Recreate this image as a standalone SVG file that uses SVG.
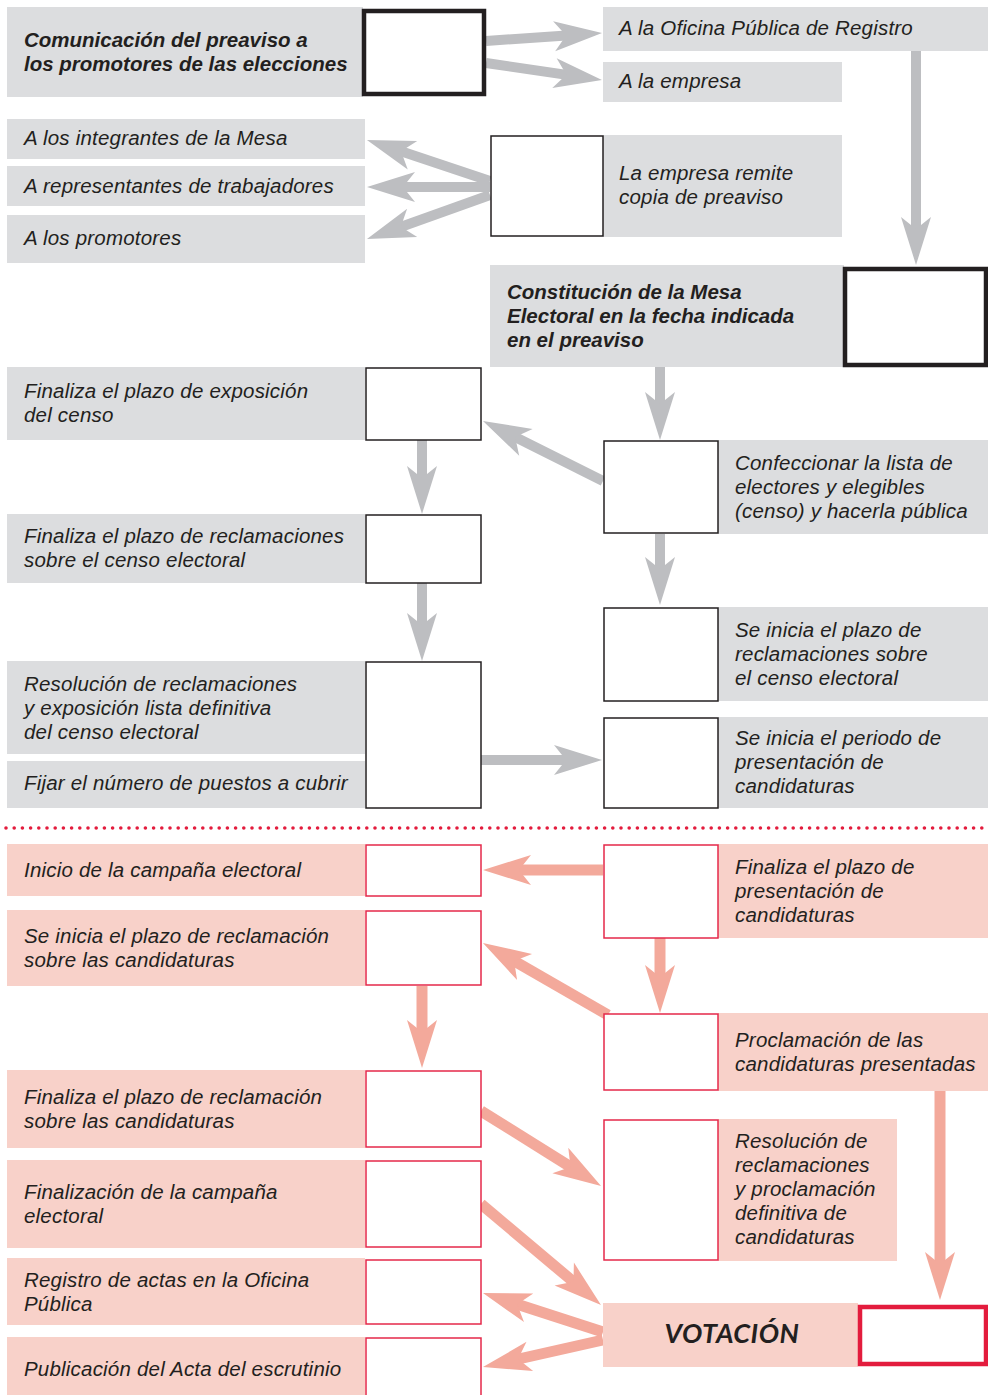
<svg xmlns="http://www.w3.org/2000/svg" width="988" height="1395" viewBox="0 0 988 1395">
<defs>
<style>
.g{fill:#dcdddf}
.p{fill:#f8d1c9}
.bx{fill:#fff;stroke:#231f20;stroke-width:1.5}
.bxr{fill:#fff;stroke:#e5284a;stroke-width:1.5}
.bk{fill:#fff;stroke:#231f20;stroke-width:4.5}
.rk{fill:#fff;stroke:#e31c3d;stroke-width:4.5}
text{font-family:"Liberation Sans",Arial,sans-serif;font-style:italic;font-size:20.5px;letter-spacing:0.2px;fill:#231f20}
.b{font-weight:bold;letter-spacing:0}
.v{font-family:Lato,"Liberation Sans",sans-serif;font-weight:bold;font-size:27px;letter-spacing:0.5px}
.ga{stroke:#bdbec1;stroke-width:10;fill:none;marker-end:url(#mg)}
.pa{stroke:#f3a99b;stroke-width:11;fill:none;marker-end:url(#mp)}
</style>
<marker id="mg" markerUnits="userSpaceOnUse" refX="0" refY="0" markerWidth="60" markerHeight="40" orient="auto" overflow="visible"><path d="M32,0 L-16,-15 L-4,0 L-16,15 Z" fill="#bdbec1"/></marker>
<marker id="mp" markerUnits="userSpaceOnUse" refX="0" refY="0" markerWidth="60" markerHeight="40" orient="auto" overflow="visible"><path d="M32,0 L-16,-15 L-4,0 L-16,15 Z" fill="#f3a99b"/></marker>
</defs>
<rect width="988" height="1395" fill="#fff"/>

<g id="connectors">
<line class="ga" x1="486" y1="41" x2="570.1" y2="35.2"/>
<line class="ga" x1="486" y1="63" x2="570.3" y2="75.4"/>
<line class="ga" x1="490" y1="181" x2="397.3" y2="150.1"/>
<line class="ga" x1="490" y1="187" x2="399" y2="187"/>
<line class="ga" x1="490" y1="195" x2="397.1" y2="228.2"/>
<line class="ga" x1="916" y1="51" x2="916" y2="233"/>
<line class="ga" x1="660" y1="367" x2="660" y2="408"/>
<line class="ga" x1="603" y1="481" x2="511.6" y2="435.3"/>
<line class="ga" x1="422" y1="440" x2="422" y2="482"/>
<line class="ga" x1="422" y1="583" x2="422" y2="629"/>
<line class="ga" x1="660" y1="534" x2="660" y2="573"/>
<line class="ga" x1="481" y1="760" x2="570" y2="760"/>
<line class="pa" x1="603" y1="870" x2="515" y2="870"/>
<line class="pa" x1="660" y1="938" x2="660" y2="981"/>
<line class="pa" x1="608" y1="1015" x2="510.7" y2="959"/>
<line class="pa" x1="422" y1="986" x2="422" y2="1036"/>
<line class="pa" x1="481" y1="1111" x2="573.9" y2="1169"/>
<line class="pa" x1="481" y1="1204" x2="576.5" y2="1284.4"/>
<line class="pa" x1="940" y1="1091" x2="940" y2="1268"/>
<line class="pa" x1="603" y1="1332" x2="513.4" y2="1302.9"/>
<line class="pa" x1="603" y1="1340" x2="514.2" y2="1360"/>
</g>

<g id="n-comunicacion">
<rect class="g" x="7" y="7" width="356" height="90"/>
<rect class="bk" x="364" y="11" width="120" height="83"/>
<text class="b" x="24" y="47">Comunicación del preaviso a<tspan x="24" dy="24">los promotores de las elecciones</tspan></text>
</g>
<g id="n-oficina">
<rect class="g" x="603" y="7" width="385" height="44"/>
<text x="619" y="35">A la Oficina Pública de Registro</text>
</g>
<g id="n-empresa">
<rect class="g" x="603" y="62" width="239" height="40"/>
<text x="619" y="88">A la empresa</text>
</g>
<g id="n-integrantes">
<rect class="g" x="7" y="119" width="358" height="40"/>
<text x="24" y="145">A los integrantes de la Mesa</text>
</g>
<g id="n-representantes">
<rect class="g" x="7" y="166" width="358" height="40"/>
<text x="24" y="193">A representantes de trabajadores</text>
</g>
<g id="n-promotores">
<rect class="g" x="7" y="215" width="358" height="48"/>
<text x="24" y="245">A los promotores</text>
</g>
<g id="n-remite">
<rect class="g" x="603" y="135" width="239" height="102"/>
<rect class="bx" x="491" y="136" width="112" height="100"/>
<text x="619" y="180">La empresa remite<tspan x="619" dy="24">copia de preaviso</tspan></text>
</g>
<g id="n-constitucion">
<rect class="g" x="490" y="265" width="354" height="102"/>
<rect class="bk" x="845" y="269" width="141" height="96"/>
<text class="b" x="507" y="299">Constitución de la Mesa<tspan x="507" dy="24">Electoral en la fecha indicada</tspan><tspan x="507" dy="24">en el preaviso</tspan></text>
</g>
<g id="n-exposicion">
<rect class="g" x="7" y="367" width="358" height="73"/>
<rect class="bx" x="366" y="368" width="115" height="72"/>
<text x="24" y="398">Finaliza el plazo de exposición<tspan x="24" dy="24">del censo</tspan></text>
</g>
<g id="n-confeccionar">
<rect class="g" x="718" y="440" width="270" height="94"/>
<rect class="bx" x="604" y="441" width="114" height="92"/>
<text x="735" y="470">Confeccionar la lista de<tspan x="735" dy="24">electores y elegibles</tspan><tspan x="735" dy="24">(censo) y hacerla pública</tspan></text>
</g>
<g id="n-fin-reclamaciones">
<rect class="g" x="7" y="514" width="358" height="69"/>
<rect class="bx" x="366" y="515" width="115" height="68"/>
<text x="24" y="543">Finaliza el plazo de reclamaciones<tspan x="24" dy="24">sobre el censo electoral</tspan></text>
</g>
<g id="n-inicio-reclamaciones">
<rect class="g" x="718" y="607" width="270" height="94"/>
<rect class="bx" x="604" y="608" width="114" height="93"/>
<text x="735" y="637">Se inicia el plazo de<tspan x="735" dy="24">reclamaciones sobre</tspan><tspan x="735" dy="24">el censo electoral</tspan></text>
</g>
<g id="n-resolucion">
<rect class="g" x="7" y="661" width="358" height="93"/>
<rect class="g" x="7" y="761" width="358" height="47"/>
<rect class="bx" x="366" y="662" width="115" height="146"/>
<text x="24" y="691">Resolución de reclamaciones<tspan x="24" dy="24">y exposición lista definitiva</tspan><tspan x="24" dy="24">del censo electoral</tspan></text>
<text x="24" y="790">Fijar el número de puestos a cubrir</text>
</g>
<g id="n-periodo">
<rect class="g" x="718" y="717" width="270" height="91"/>
<rect class="bx" x="604" y="718" width="114" height="90"/>
<text x="735" y="745">Se inicia el periodo de<tspan x="735" dy="24">presentación de</tspan><tspan x="735" dy="24">candidaturas</tspan></text>
</g>

<line x1="6" y1="828" x2="985" y2="828" stroke="#e31c3d" stroke-width="3.6" stroke-linecap="round" stroke-dasharray="0 8.2"/>

<g id="n-campana">
<rect class="p" x="7" y="844" width="358" height="52"/>
<rect class="bxr" x="366" y="845" width="115" height="51"/>
<text x="24" y="877">Inicio de la campaña electoral</text>
</g>
<g id="n-fin-presentacion">
<rect class="p" x="718" y="844" width="270" height="94"/>
<rect class="bxr" x="604" y="845" width="114" height="93"/>
<text x="735" y="874">Finaliza el plazo de<tspan x="735" dy="24">presentación de</tspan><tspan x="735" dy="24">candidaturas</tspan></text>
</g>
<g id="n-inicio-reclamacion">
<rect class="p" x="7" y="910" width="358" height="76"/>
<rect class="bxr" x="366" y="911" width="115" height="74"/>
<text x="24" y="943">Se inicia el plazo de reclamación<tspan x="24" dy="24">sobre las candidaturas</tspan></text>
</g>
<g id="n-proclamacion">
<rect class="p" x="718" y="1013" width="270" height="78"/>
<rect class="bxr" x="604" y="1014" width="114" height="76"/>
<text x="735" y="1047">Proclamación de las<tspan x="735" dy="24">candidaturas presentadas</tspan></text>
</g>
<g id="n-fin-reclamacion">
<rect class="p" x="7" y="1070" width="358" height="78"/>
<rect class="bxr" x="366" y="1071" width="115" height="76"/>
<text x="24" y="1104">Finaliza el plazo de reclamación<tspan x="24" dy="24">sobre las candidaturas</tspan></text>
</g>
<g id="n-resolucion-def">
<rect class="p" x="718" y="1119" width="179" height="142"/>
<rect class="bxr" x="604" y="1120" width="114" height="140"/>
<text x="735" y="1148">Resolución de<tspan x="735" dy="24">reclamaciones</tspan><tspan x="735" dy="24">y proclamación</tspan><tspan x="735" dy="24">definitiva de</tspan><tspan x="735" dy="24">candidaturas</tspan></text>
</g>
<g id="n-fin-campana">
<rect class="p" x="7" y="1160" width="358" height="88"/>
<rect class="bxr" x="366" y="1161" width="115" height="86"/>
<text x="24" y="1199">Finalización de la campaña<tspan x="24" dy="24">electoral</tspan></text>
</g>
<g id="n-votacion">
<rect class="p" x="603" y="1303" width="255" height="64"/>
<rect class="rk" x="860" y="1307" width="126" height="57"/>
<text class="v" x="732" y="1343" text-anchor="middle">VOTACIÓN</text>
</g>
<g id="n-registro">
<rect class="p" x="7" y="1258" width="358" height="67"/>
<rect class="bxr" x="366" y="1260" width="115" height="64"/>
<text x="24" y="1287">Registro de actas en la Oficina<tspan x="24" dy="24">Pública</tspan></text>
</g>
<g id="n-publicacion">
<rect class="p" x="7" y="1337" width="358" height="58"/>
<rect class="bxr" x="366" y="1338" width="115" height="58"/>
<text x="24" y="1376">Publicación del Acta del escrutinio</text>
</g>
</svg>
